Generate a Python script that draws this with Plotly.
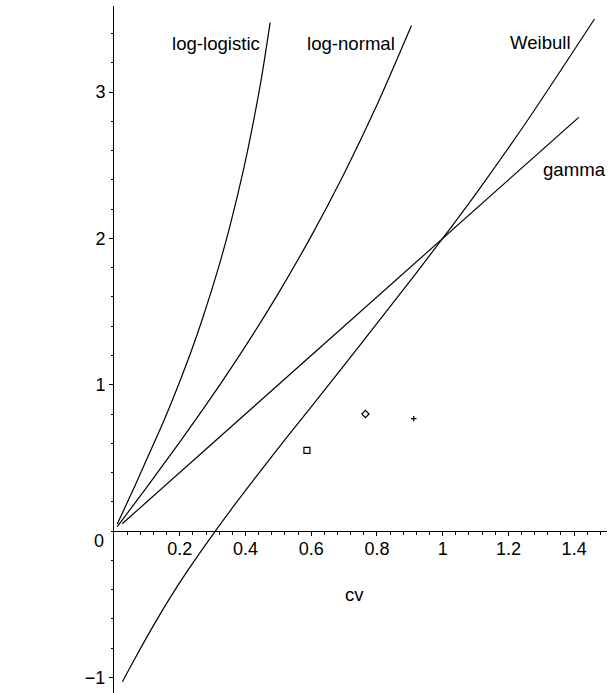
import plotly.graph_objects as go
import numpy as np

# ---- data ----
loglogistic_cv = [0.01, 0.0607, 0.0915, 0.1533, 0.1851, 0.2341, 0.2702, 0.3204, 0.3537, 0.3954, 0.4205, 0.4494, 0.475]
loglogistic_skew = [0.048, 0.295, 0.45, 0.763, 0.937, 1.224, 1.458, 1.820, 2.093, 2.485, 2.756, 3.106, 3.475]

lognormal_cv = [0.01, 0.1, 0.2, 0.3, 0.4, 0.5, 0.6, 0.7, 0.8, 0.905]
lognormal_skew = [0.03, 0.301, 0.608, 0.927, 1.264, 1.625, 2.016, 2.443, 2.912, 3.456]

weibull_cv = [0.0256, 0.0625, 0.1203, 0.1680, 0.2291, 0.3083, 0.3634, 0.4279, 0.5227, 0.679, 0.8364, 1.0, 1.113, 1.2605, 1.462]
weibull_skew = [-1.03, -0.876, -0.645, -0.465, -0.254, 0.0, 0.168, 0.359, 0.631, 1.072, 1.523, 2.0, 2.343, 2.815, 3.50]

gamma_cv = [0.025, 1.414]
gamma_skew = [0.05, 2.828]

points_cv = [0.587, 0.765, 0.912]
points_skew = [0.552, 0.80, 0.768]
points_symbol = ["square-open", "diamond-open", "cross-thin-open"]
points_size = [6, 5.5, 4]

curve_labels = ["log-logistic", "log-normal", "Weibull", "gamma"]
curve_label_cv = [0.31, 0.72, 1.297, 1.40]
curve_label_skew = [3.336, 3.336, 3.34, 2.47]

x_tick_vals = [0.2, 0.4, 0.6, 0.8, 1.0, 1.2, 1.4]
x_tick_text = ["0.2", "0.4", "0.6", "0.8", "1", "1.2", "1.4"]
y_tick_vals = [-1, 1, 2, 3]
y_tick_text = ["\u22121", "1", "2", "3"]

x_range = [0, 1.5]
y_range = [-1.107, 3.589]

FONT = "Liberation Sans, Arial, Helvetica, sans-serif"
LINE = dict(color="black", width=1.2)
LABEL_SIZE = 18.6

fig = go.Figure()
for xs, ys in [(loglogistic_cv, loglogistic_skew), (lognormal_cv, lognormal_skew),
               (weibull_cv, weibull_skew), (gamma_cv, gamma_skew)]:
    fig.add_trace(go.Scatter(x=xs, y=ys, mode="lines", line=dict(shape="spline", smoothing=0.8, **LINE),
                             hoverinfo="skip"))

for cx, cy, sym, sz in zip(points_cv, points_skew, points_symbol, points_size):
    fig.add_trace(go.Scatter(x=[cx], y=[cy], mode="markers",
                             marker=dict(symbol=sym, size=sz, color="black",
                                         line=dict(color="black", width=1.2))))

annotations = []
for t, cx, cy in zip(curve_labels, curve_label_cv, curve_label_skew):
    annotations.append(dict(x=cx, y=cy, text=t, showarrow=False, xanchor="center", yanchor="middle",
                            font=dict(family=FONT, size=LABEL_SIZE, color="black")))
annotations.append(dict(x=-0.234, y=1.777, text="skew", showarrow=False, xanchor="center", yanchor="middle",
                        font=dict(family=FONT, size=LABEL_SIZE, color="black")))
annotations.append(dict(x=0.732, y=-0.437, text="cv", showarrow=False, xanchor="center", yanchor="middle",
                        font=dict(family=FONT, size=LABEL_SIZE, color="black")))
annotations.append(dict(x=0, y=0, text="0", showarrow=False, xanchor="right", yanchor="middle",
                        xshift=-8, yshift=-10, font=dict(family=FONT, size=18, color="black")))

xpos = (0 - y_range[0]) / (y_range[1] - y_range[0])

x_minor = [round(v, 2) for v in np.arange(0.04, 1.5, 0.04)]
y_minor = [round(v, 2) for v in np.arange(-1.0, 3.6, 0.2)]

fig.update_layout(
    width=616, height=693,
    margin=dict(l=114, r=9, t=6, b=0),
    plot_bgcolor="white", paper_bgcolor="white",
    showlegend=False,
    font=dict(family=FONT, size=18, color="black"),
    annotations=annotations,
    xaxis=dict(range=x_range, anchor="free", position=xpos, showline=True, linecolor="black", linewidth=1,
               ticks="outside", ticklen=4, tickwidth=1, tickcolor="black",
               tickmode="array", tickvals=x_tick_vals, ticktext=x_tick_text,
               ticklabelstandoff=-3,
               showgrid=False, zeroline=False, automargin=False,
               tickfont=dict(family=FONT, size=18, color="black"),
               minor=dict(ticks="outside", ticklen=2.5, tickcolor="black", tickwidth=1,
                          tickmode="array", tickvals=x_minor, showgrid=False)),
    yaxis=dict(range=y_range, showline=True, linecolor="black", linewidth=1,
               ticks="outside", ticklen=4, tickwidth=1, tickcolor="black",
               tickmode="array", tickvals=y_tick_vals, ticktext=y_tick_text,
               showgrid=False, zeroline=False, automargin=False,
               tickfont=dict(family=FONT, size=18, color="black"),
               minor=dict(ticks="outside", ticklen=2.5, tickcolor="black", tickwidth=1,
                          tickmode="array", tickvals=y_minor, showgrid=False)),
)

fig.write_html("out.html", config={"displayModeBar": False},
               post_script="document.body.style.margin='0px';document.body.style.overflow='hidden';")
